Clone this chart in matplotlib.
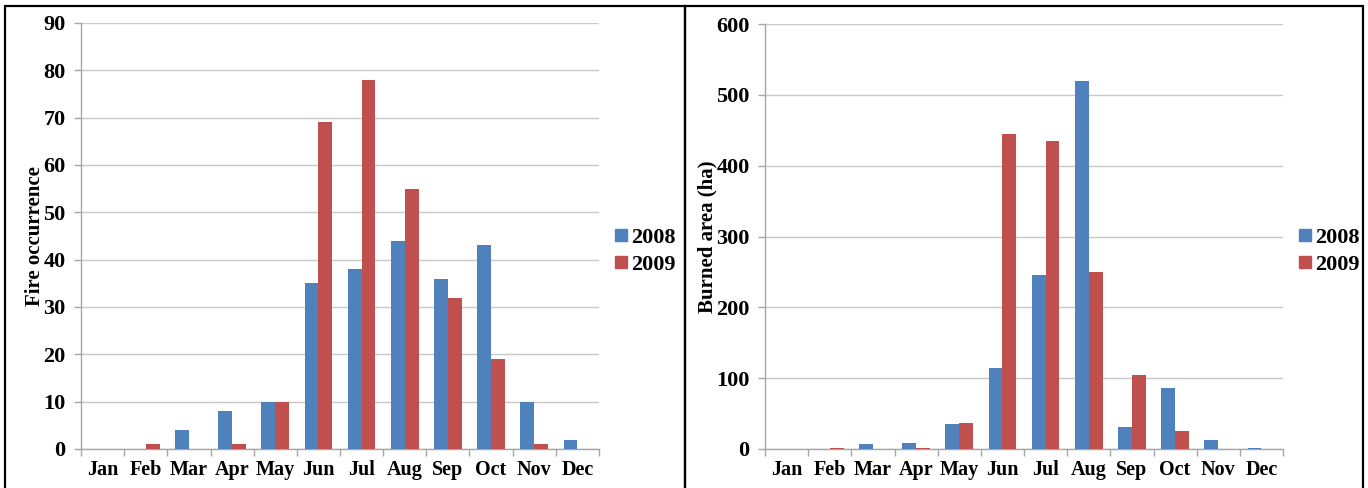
import matplotlib
matplotlib.use("Agg")
import matplotlib.pyplot as plt
import numpy as np
from matplotlib.lines import Line2D

months = ["Jan", "Feb", "Mar", "Apr", "May", "Jun", "Jul", "Aug", "Sep", "Oct", "Nov", "Dec"]
years = ["2008", "2009"]

fires_2008 = [0, 0, 4, 8, 10, 35, 38, 44, 36, 43, 10, 2]
fires_2009 = [0, 1, 0, 1, 10, 69, 78, 55, 32, 19, 1, 0]

area_2008 = [0, 0, 7, 8, 35, 115, 245, 520, 31, 86, 13, 1]
area_2009 = [0, 1, 0, 1, 37, 445, 435, 250, 104, 26, 0, 0]

BLUE = "#4F81BD"
RED = "#C0504D"
GRID = "#C8C8C8"
FONT = "Liberation Serif"

W, H = 1368, 488
fig = plt.figure(figsize=(W / 100, H / 100), dpi=100)
fig.patch.set_facecolor("white")


def px_axes(x0, x1, y0, y1):
    return fig.add_axes([x0 / W, 1 - y1 / H, (x1 - x0) / W, (y1 - y0) / H])


def draw_panel(ax, s1, s2, ymax, ystep, ylabel, leg_x):
    x = np.arange(len(months))
    bw = 0.32
    ax.bar(x - bw / 2, s1, bw, color=BLUE, label=years[0], zorder=3)
    ax.bar(x + bw / 2, s2, bw, color=RED, label=years[1], zorder=3)
    ax.set_xlim(-0.5, len(months) - 0.5)
    ax.set_ylim(0, ymax)
    ax.set_yticks(np.arange(0, ymax + 1, ystep))
    ax.yaxis.grid(True, color=GRID, linewidth=1.0, zorder=0)
    ax.set_axisbelow(True)
    for s in ("top", "right"):
        ax.spines[s].set_visible(False)
    for s in ("left", "bottom"):
        ax.spines[s].set_color("#A6A6A6")
        ax.spines[s].set_linewidth(1.0)
    ax.set_xticks(x)
    ax.set_xticklabels(months)
    ax.tick_params(axis="x", which="major", length=0, pad=8)
    ax.set_xticks(np.arange(-0.5, len(months)), minor=True)
    ax.tick_params(axis="x", which="minor", length=5, color="#A6A6A6", width=1.0)
    ax.tick_params(axis="y", length=5, color="#A6A6A6", width=1.0, pad=6)
    for lab in ax.get_xticklabels():
        lab.set_fontfamily(FONT)
        lab.set_fontweight("bold")
        lab.set_fontsize(14.5)
    for lab in ax.get_yticklabels():
        lab.set_fontfamily(FONT)
        lab.set_fontweight("bold")
        lab.set_fontsize(16)
    ax.set_ylabel(ylabel, fontfamily=FONT, fontweight="bold", fontsize=15, labelpad=-1)
    handles = [
        Line2D([], [], marker="s", linestyle="none", markersize=8, color=BLUE),
        Line2D([], [], marker="s", linestyle="none", markersize=8, color=RED),
    ]
    ax.legend(handles, years, loc="center left", bbox_to_anchor=(leg_x, 0.465),
              frameon=False, handletextpad=0.05, labelspacing=0.3,
              borderaxespad=0, borderpad=0,
              prop={"family": FONT, "weight": "bold", "size": 16},
              handlelength=0.8)


ax1 = px_axes(81, 599, 23, 449)
draw_panel(ax1, fires_2008, fires_2009, 90, 10, "Fire occurrence", 1.025)

ax2 = px_axes(765, 1283, 24, 449)
draw_panel(ax2, area_2008, area_2009, 600, 100, "Burned area (ha)", 1.025)

# Panel frames
for x0, x1 in ((5, 685), (685, 1363)):
    fig.add_artist(plt.Rectangle((x0 / W, -0.02), (x1 - x0) / W, 1 - 6 / H + 0.02,
                                 transform=fig.transFigure, fill=False,
                                 edgecolor="black", linewidth=1.6))

fig.savefig("out.png", dpi=100, facecolor="white")
